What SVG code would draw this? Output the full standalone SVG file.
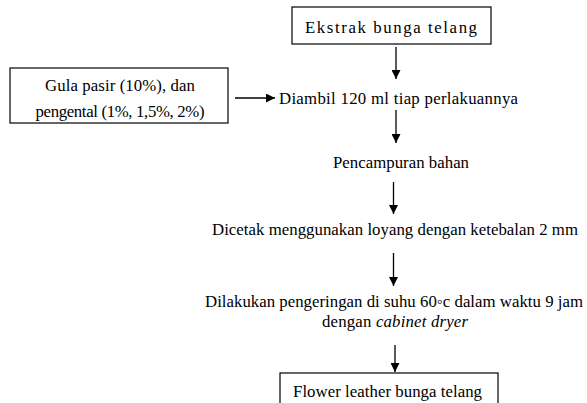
<svg xmlns="http://www.w3.org/2000/svg" width="587" height="403" viewBox="0 0 587 403">
<style>
text{font-family:"Liberation Serif","Times New Roman",serif;fill:#000;font-size:16.8px}
.box{fill:#fff;stroke:#000;stroke-width:1.2}
.c{stroke:#000;stroke-width:1.3;fill:none}
</style>
<defs>
<marker id="ah" viewBox="0 0 10 10" refX="10" refY="5" markerWidth="9" markerHeight="9" markerUnits="userSpaceOnUse" orient="auto">
<path d="M0,0 L10,5 L0,10 Z" fill="#000"/>
</marker>
</defs>
<rect width="587" height="403" fill="#fff"/>
<g id="n1">
<rect class="box" x="292" y="7" width="199" height="37"/>
<text x="391" y="33" text-anchor="middle" font-size="19.5" textLength="172">Ekstrak bunga telang</text>
</g>
<g id="n2">
<rect class="box" x="10" y="68" width="218" height="55"/>
<text x="120" y="91" text-anchor="middle" textLength="150">Gula pasir (10%), dan</text>
<text x="120" y="116.5" text-anchor="middle" textLength="169">pengental (1%, 1,5%, 2%)</text>
</g>
<g id="n3">
<text x="279" y="103.5" textLength="239">Diambil 120 ml tiap perlakuannya</text>
</g>
<g id="n4">
<text x="401" y="168" text-anchor="middle" textLength="136">Pencampuran bahan</text>
</g>
<g id="n5">
<text x="395" y="235" text-anchor="middle" textLength="366">Dicetak menggunakan loyang dengan ketebalan 2 mm</text>
</g>
<g id="n6">
<text x="394" y="306.5" text-anchor="middle" textLength="378">Dilakukan pengeringan di suhu 60◦c dalam waktu 9 jam</text>
<text x="395" y="326.5" text-anchor="middle" textLength="146">dengan <tspan font-style="italic">cabinet dryer</tspan></text>
</g>
<g id="n7">
<rect class="box" x="280" y="373" width="218" height="40"/>
<text x="387.5" y="396.5" text-anchor="middle" textLength="189">Flower leather bunga telang</text>
</g>
<g id="connectors">
<line class="c" x1="396" y1="47" x2="396" y2="79" marker-end="url(#ah)"/>
<line class="c" x1="235" y1="98" x2="275" y2="98" marker-end="url(#ah)"/>
<line class="c" x1="396" y1="110" x2="396" y2="143" marker-end="url(#ah)"/>
<line class="c" x1="393.5" y1="182" x2="393.5" y2="214" marker-end="url(#ah)"/>
<line class="c" x1="393.5" y1="253" x2="393.5" y2="286" marker-end="url(#ah)"/>
<line class="c" x1="395" y1="345" x2="395" y2="372" marker-end="url(#ah)"/>
</g>
</svg>
